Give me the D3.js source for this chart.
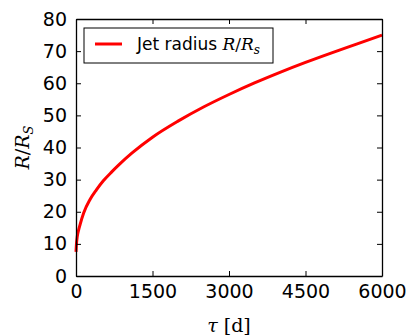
<!DOCTYPE html>
<html lang="en">
<head>
<meta charset="UTF-8">
<title>Jet radius</title>
<style>
	body { margin: 0; background: #fff; }
	svg { display: block; }
</style>
</head>
<body>
<script src="https://cdn.jsdelivr.net/npm/d3@7"></script>
<script type="text/javascript">

	// values
	var tau = [0, 8, 25, 50, 80, 150, 275, 400, 540, 700, 860, 1100, 1500, 2000, 2500, 3000, 3500, 4000, 4500, 5000, 5500, 6000];
	var radius = [7.5, 9.8, 12.3, 14.2, 16, 19.6, 23.8, 26.8, 29.7, 32.4, 34.9, 38.3, 43.2, 48.2, 52.6, 56.5, 60.1, 63.4, 66.5, 69.4, 72.2, 75.0];
	var xTicks = [0, 1500, 3000, 4500, 6000];
	var yTicks = [0, 10, 20, 30, 40, 50, 60, 70, 80];

	var width = 409, height = 336;
	var margin = { top: 19, right: 27, bottom: 60, left: 76 };
	var w = width - margin.left - margin.right;
	var h = height - margin.top - margin.bottom;

	var svg = d3.select("body").append("svg")
		.attr("width", width)
		.attr("height", height);

	var g = svg.append("g")
		.attr("transform", "translate(" + margin.left + "," + margin.top + ")");

	var x = d3.scaleLinear().domain([0, 6000]).range([0, w]);
	var y = d3.scaleLinear().domain([0, 80]).range([h, 0]);

	// curve
	var line = d3.line()
		.x(function(d, i) { return x(tau[i]); })
		.y(function(d) { return y(d); })
		.curve(d3.curveMonotoneX);

	g.append("path")
		.datum(radius)
		.attr("fill", "none")
		.attr("stroke", "#ff0000")
		.attr("stroke-width", 3)
		.attr("d", line);

	// axes, ticks pointing inward like matplotlib classic
	var font = "DejaVu Sans, sans-serif";
	var fmt = d3.format("d");

	var xb = g.append("g").attr("transform", "translate(0," + h + ")")
		.call(d3.axisBottom(x).tickValues(xTicks).tickFormat(fmt).tickSizeInner(-5).tickSizeOuter(0).tickPadding(9));
	var xt = g.append("g")
		.call(d3.axisTop(x).tickValues(xTicks).tickSizeInner(-5).tickSizeOuter(0).tickFormat(""));
	var yl = g.append("g")
		.call(d3.axisLeft(y).tickValues(yTicks).tickFormat(fmt).tickSizeInner(-5).tickSizeOuter(0).tickPadding(9));
	var yr = g.append("g").attr("transform", "translate(" + w + ",0)")
		.call(d3.axisRight(y).tickValues(yTicks).tickSizeInner(-5).tickSizeOuter(0).tickFormat(""));

	[xb, xt, yl, yr].forEach(function(a) {
		a.select(".domain").attr("stroke", "#000").attr("stroke-width", 1.3);
		a.selectAll(".tick line").attr("stroke", "#000").attr("stroke-width", 1);
		a.selectAll("text").attr("font-family", font).attr("font-size", "19px").attr("fill", "#000");
	});

	// axis labels
	svg.append("text")
		.attr("x", margin.left + w / 2)
		.attr("y", 332)
		.attr("text-anchor", "middle")
		.attr("font-family", "DejaVu Serif, serif")
		.attr("font-size", "19px")
		.html('<tspan font-style="italic">τ</tspan> [d]');

	svg.append("text")
		.attr("transform", "translate(29," + (margin.top + h / 2) + ") rotate(-90)")
		.attr("text-anchor", "middle")
		.attr("font-family", "DejaVu Serif, serif")
		.attr("font-size", "19px")
		.html('<tspan font-style="italic">R</tspan>/<tspan font-style="italic">R</tspan><tspan font-style="italic" font-size="13px" dy="4">S</tspan>');

	// legend
	var lg = svg.append("g");
	lg.append("rect")
		.attr("x", 84).attr("y", 28)
		.attr("width", 189).attr("height", 35)
		.attr("fill", "#fff")
		.attr("stroke", "#000")
		.attr("stroke-width", 1);
	lg.append("line")
		.attr("x1", 95).attr("x2", 122)
		.attr("y1", 44).attr("y2", 44)
		.attr("stroke", "#ff0000")
		.attr("stroke-width", 3);
	var lt = lg.append("text")
		.attr("x", 137).attr("y", 50)
		.attr("font-family", font)
		.attr("font-size", "17px");
	lt.append("tspan").text("Jet radius ");
	lt.append("tspan").attr("font-family", "DejaVu Serif, serif").attr("font-style", "italic").text("R");
	lt.append("tspan").attr("font-family", "DejaVu Serif, serif").text("/");
	lt.append("tspan").attr("font-family", "DejaVu Serif, serif").attr("font-style", "italic").text("R");
	lt.append("tspan").attr("font-family", "DejaVu Serif, serif").attr("font-style", "italic")
		.attr("font-size", "12px").attr("dy", 4).text("s");

</script>
</body>
</html>
